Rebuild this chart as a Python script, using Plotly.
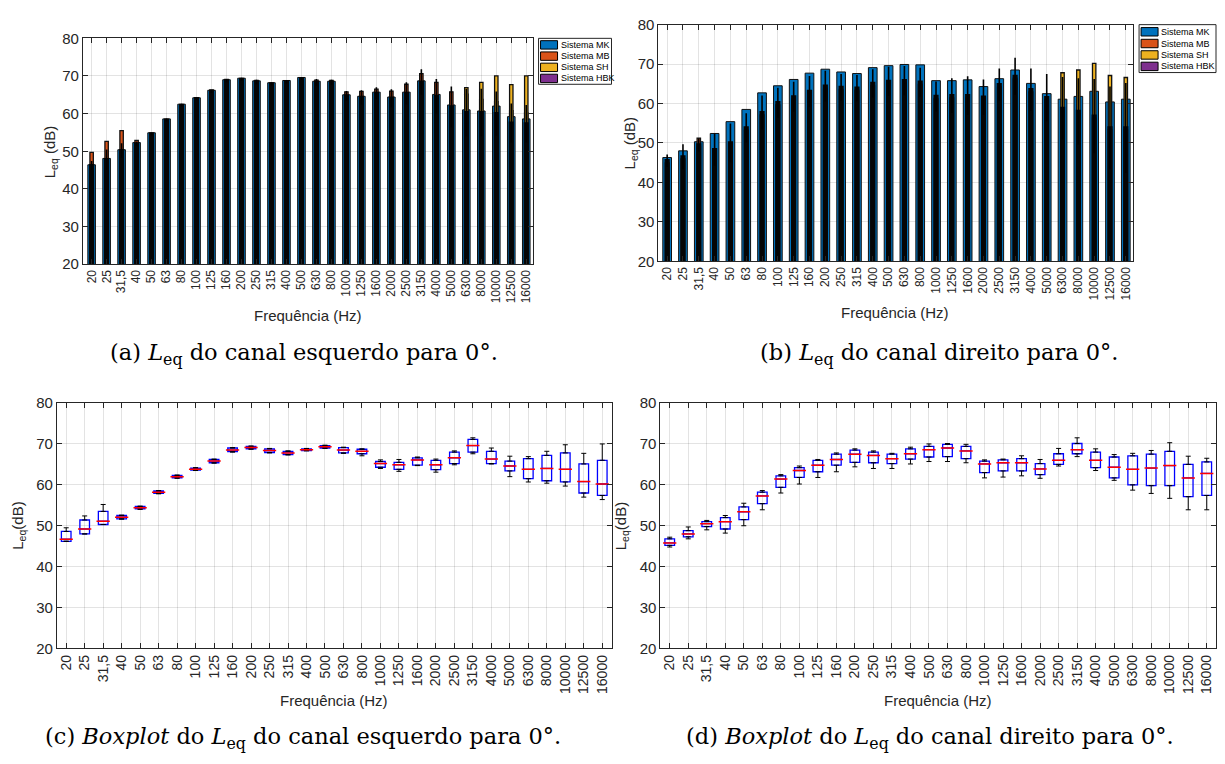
import plotly.graph_objects as go

W, H = 1225, 764

freq_labels = ["20", "25", "31,5", "40", "50", "63", "80", "100", "125", "160",
               "200", "250", "315", "400", "500", "630", "800", "1000", "1250", "1600",
               "2000", "2500", "3150", "4000", "5000", "6300", "8000", "10000", "12500", "16000"]
systems = ["Sistema MK", "Sistema MB", "Sistema SH", "Sistema HBK"]
sys_colors = ["#0072BD", "#D95319", "#EDB120", "#7E2F8E"]

# ---- (a) canal esquerdo: Leq por sistema (dB)
mk_esq = [46.4, 48.1, 50.4, 52.3, 54.9, 58.6, 62.5, 64.2, 66.2, 69.0, 69.4, 68.7, 68.2, 68.8, 69.6,
          68.6, 68.6, 65.0, 64.6, 65.7, 64.4, 65.7, 68.7, 65.1, 62.3, 61.0, 60.7, 62.0, 59.2, 58.6]
mb_esq = [49.7, 52.6, 55.5, 52.9, 54.7, 58.4, 62.3, 64.0, 66.0, 68.8, 69.2, 68.8, 68.0, 68.6, 69.4,
          68.9, 68.8, 65.8, 65.9, 66.5, 66.0, 67.8, 70.6, 68.3, 65.8, 65.2, 63.8, 63.2, 60.8, 60.2]
sh_esq = [45.5, 47.0, 49.5, 51.8, 54.3, 58.0, 61.9, 63.7, 66.3, 69.1, 68.9, 68.2, 67.7, 68.3, 69.1,
          68.1, 67.9, 64.4, 63.9, 64.9, 63.7, 64.9, 67.9, 64.4, 61.9, 66.9, 68.3, 70.0, 67.7, 70.0]
hbk_esq = [46.2, 47.8, 50.2, 52.0, 54.6, 58.3, 62.2, 64.0, 65.9, 68.7, 69.1, 68.4, 67.9, 68.5, 69.3,
           68.3, 68.3, 64.7, 64.3, 65.4, 64.1, 65.4, 68.4, 64.6, 61.8, 60.3, 60.3, 60.0, 57.5, 57.3]
err_esq = [1.2, 2.7, 1.9, 0.6, 0.4, 0.4, 0.4, 0.3, 0.4, 0.4, 0.4, 0.6, 0.4, 0.4, 0.4,
           0.9, 0.7, 1.3, 1.9, 1.6, 2.4, 2.9, 3.4, 4.6, 5.4, 6.3, 6.3, 5.9, 5.2, 5.0]

# ---- (b) canal direito: Leq por sistema (dB)
mk_dir = [46.3, 48.0, 50.3, 52.4, 55.4, 58.5, 62.7, 64.5, 66.1, 67.7, 68.7, 68.0, 67.6, 69.1, 69.6,
          69.9, 69.8, 65.8, 65.8, 66.0, 64.3, 66.3, 68.5, 65.1, 62.5, 61.1, 61.8, 63.1, 60.4, 61.1]
mb_dir = [45.0, 46.0, 51.2, 48.0, 49.5, 53.3, 57.2, 59.7, 61.2, 62.6, 63.9, 63.6, 63.4, 64.6, 65.1,
          65.3, 64.9, 61.3, 61.5, 61.5, 61.1, 64.3, 66.4, 63.0, 61.0, 58.3, 57.5, 56.3, 53.3, 53.3]
sh_dir = [44.8, 45.8, 49.0, 47.8, 49.3, 53.1, 57.0, 59.5, 61.0, 62.4, 63.7, 63.4, 63.2, 64.4, 64.9,
          65.1, 64.7, 61.1, 61.3, 61.3, 60.9, 64.1, 66.2, 62.8, 60.8, 67.8, 68.5, 70.2, 67.1, 66.6]
hbk_dir = [45.5, 46.5, 49.5, 48.3, 50.0, 53.8, 57.7, 60.2, 61.7, 63.1, 64.4, 64.1, 63.9, 65.1, 65.6,
           65.8, 65.4, 61.8, 62.0, 62.0, 61.6, 64.8, 66.9, 63.5, 61.5, 58.8, 58.0, 56.8, 53.8, 53.8]
err_dir = [1.6, 3.2, 1.7, 4.1, 4.9, 3.7, 4.3, 3.8, 3.8, 3.9, 3.9, 3.4, 3.3, 3.6, 3.7,
           3.7, 3.7, 3.8, 4.4, 4.9, 4.5, 4.1, 4.7, 5.4, 6.0, 7.9, 8.4, 9.4, 10.5, 11.4]

# ---- (c) boxplot canal esquerdo
q1_esq = [46.2, 48.0, 50.3, 51.7, 54.1, 57.9, 61.7, 63.6, 65.4, 68.1, 68.8, 67.9, 67.4, 68.4, 69.0,
          67.8, 67.6, 64.3, 63.8, 64.8, 63.7, 65.2, 68.0, 65.2, 63.4, 61.5, 61.0, 60.7, 58.0, 57.4]
med_esq = [46.7, 49.2, 51.1, 52.1, 54.4, 58.2, 62.0, 63.8, 65.8, 68.5, 69.1, 68.4, 67.8, 68.6, 69.3,
           68.5, 68.2, 65.2, 64.9, 66.1, 64.9, 66.6, 69.6, 66.3, 64.6, 63.8, 64.0, 63.8, 60.8, 60.2]
q3_esq = [48.6, 51.4, 53.5, 52.5, 54.7, 58.5, 62.3, 64.1, 66.2, 69.0, 69.4, 68.8, 68.2, 68.8, 69.6,
          69.1, 68.7, 65.7, 65.5, 66.6, 66.0, 68.0, 71.1, 68.2, 65.8, 66.4, 67.2, 67.8, 65.1, 66.0]
lo_esq = [46.2, 48.0, 50.3, 51.6, 54.0, 57.8, 61.6, 63.5, 65.3, 68.0, 68.7, 67.8, 67.3, 68.3, 68.9,
          67.7, 67.1, 64.0, 63.3, 64.7, 63.1, 64.9, 67.6, 65.1, 62.0, 60.7, 60.4, 59.7, 57.0, 56.4]
hi_esq = [49.5, 52.4, 55.2, 52.6, 54.8, 58.6, 62.4, 64.2, 66.3, 69.1, 69.5, 68.9, 68.3, 68.9, 69.7,
          69.2, 68.8, 66.1, 66.2, 66.8, 66.3, 68.3, 71.5, 69.0, 67.0, 66.9, 68.2, 69.8, 67.7, 70.0]

# ---- (d) boxplot canal direito
q1_dir = [45.2, 47.3, 49.8, 49.2, 51.5, 55.4, 59.4, 61.8, 63.2, 64.8, 65.5, 65.4, 65.2, 66.3, 66.8,
          66.9, 66.4, 63.0, 63.4, 63.4, 62.5, 65.0, 67.6, 64.2, 61.7, 60.0, 59.8, 59.8, 57.1, 57.4]
med_dir = [45.8, 48.0, 50.5, 51.0, 53.4, 57.3, 61.4, 63.5, 64.8, 66.2, 67.5, 67.2, 66.4, 67.6, 68.6,
           69.0, 68.3, 65.1, 65.4, 65.4, 63.9, 66.0, 68.6, 66.0, 64.3, 63.8, 64.1, 64.7, 61.7, 62.8]
q3_dir = [46.8, 48.8, 51.0, 52.0, 54.6, 58.2, 62.2, 64.2, 66.0, 67.5, 68.5, 68.0, 67.5, 68.8, 69.4,
          69.9, 69.4, 65.8, 66.1, 66.4, 65.2, 67.6, 70.1, 68.0, 66.8, 67.1, 67.5, 68.2, 65.0, 65.6]
lo_dir = [44.8, 46.8, 49.0, 48.2, 50.0, 53.9, 58.0, 60.2, 61.8, 63.2, 64.4, 64.0, 64.0, 65.1, 65.7,
          65.7, 65.4, 61.7, 61.9, 62.2, 61.6, 64.6, 66.9, 63.5, 61.1, 58.7, 57.9, 56.7, 53.9, 53.9]
hi_dir = [47.2, 49.7, 51.3, 52.5, 55.5, 58.6, 62.5, 64.6, 66.2, 67.8, 68.8, 68.3, 67.7, 69.2, 70.0,
          70.1, 69.9, 66.1, 66.3, 67.1, 66.2, 68.9, 71.5, 68.8, 67.4, 67.7, 68.4, 70.3, 67.0, 66.5]

x_idx = list(range(len(freq_labels)))


def fx(p):
    return p / W


def fy(p):
    return 1 - p / H


AX = "#262626"
GRID = "rgba(38,38,38,0.13)"
SANS = "Liberation Sans, Arial, sans-serif"
LBLFONT = dict(family=SANS, size=15, color=AX)
CAPFONT = dict(family="DejaVu Serif, serif", size=22.5, color="black")

fig = go.Figure()


def add_bars(n, mk, mb, sh, hbk, err, sp, mkw):
    xa, ya = ("x", "y") if n == 1 else ("x%d" % n, "y%d" % n)
    fig.add_trace(go.Bar(x=x_idx, y=mk, width=mkw / sp,
                         marker=dict(color=sys_colors[0], line=dict(color="#111111", width=1)),
                         name=systems[0], xaxis=xa, yaxis=ya, showlegend=False))
    fig.add_trace(go.Bar(x=x_idx, y=mb, width=3.4 / sp,
                         marker=dict(color=sys_colors[1], line=dict(color="#111111", width=1.3)),
                         name=systems[1], xaxis=xa, yaxis=ya, showlegend=False))
    fig.add_trace(go.Bar(x=x_idx, y=sh, width=3.4 / sp,
                         marker=dict(color=sys_colors[2], line=dict(color="#111111", width=1.3)),
                         name=systems[2], xaxis=xa, yaxis=ya, showlegend=False))
    fig.add_trace(go.Bar(x=x_idx, y=hbk, width=2.0 / sp,
                         marker=dict(color=sys_colors[3], line=dict(color="#050505", width=3.2)),
                         error_y=dict(type="data", array=err, color="black", thickness=1.6, width=0),
                         name=systems[3], xaxis=xa, yaxis=ya, showlegend=False))


def add_box(n, q1, med, q3, lo, hi):
    xa, ya = "x%d" % n, "y%d" % n
    fig.add_trace(go.Box(x=x_idx, q1=q1, median=med, q3=q3, lowerfence=q1, upperfence=q3,
                         width=0.52, whiskerwidth=0, fillcolor="rgba(0,0,0,0)",
                         line=dict(color="#0000FF", width=1.3), boxpoints=False,
                         xaxis=xa, yaxis=ya, showlegend=False))
    up = [h - q for h, q in zip(hi, q3)]
    dn = [q - l for q, l in zip(q1, lo)]
    fig.add_trace(go.Scatter(x=x_idx, y=q3, mode="markers", marker=dict(size=1, opacity=0),
                             error_y=dict(type="data", symmetric=False, array=up,
                                          arrayminus=[0] * len(up), color="black",
                                          thickness=1, width=2.5),
                             xaxis=xa, yaxis=ya, showlegend=False, hoverinfo="skip"))
    fig.add_trace(go.Scatter(x=x_idx, y=q1, mode="markers", marker=dict(size=1, opacity=0),
                             error_y=dict(type="data", symmetric=False, array=[0] * len(dn),
                                          arrayminus=dn, color="black",
                                          thickness=1, width=2.5),
                             xaxis=xa, yaxis=ya, showlegend=False, hoverinfo="skip"))
    fig.add_trace(go.Scatter(x=x_idx, y=med, mode="markers",
                             marker=dict(symbol="line-ew", size=9.5,
                                         line=dict(color="#FF0000", width=1.5)),
                             xaxis=xa, yaxis=ya, showlegend=False, hoverinfo="skip"))


add_bars(1, mk_esq, mb_esq, sh_esq, hbk_esq, err_esq, 15.0, 7.6)
add_bars(2, mk_dir, mb_dir, sh_dir, hbk_dir, err_dir, 15.83, 8.7)
add_box(3, q1_esq, med_esq, q3_esq, lo_esq, hi_esq)
add_box(4, q1_dir, med_dir, q3_dir, lo_dir, hi_dir)

# axes geometry (pixels)
panels = {
    1: dict(x0=83, x1=533, y0=30, y1=261, xr=[-0.58, 29.42], xf=12),
    2: dict(x0=659, x1=1134, y0=16, y1=258, xr=[-0.55, 29.46], xf=12),
    3: dict(x0=57, x1=612, y0=403, y1=654, xr=[-0.5, 29.5], xf=14),
    4: dict(x0=661, x1=1217, y0=403, y1=654, xr=[-0.5, 29.5], xf=14),
}

layout = dict(width=W, height=H, margin=dict(l=0, r=0, t=0, b=0),
              paper_bgcolor="white", plot_bgcolor="white", barmode="overlay",
              showlegend=False)
for n, p in panels.items():
    sx = "" if n == 1 else str(n)
    layout["xaxis" + sx] = dict(domain=[fx(p["x0"]), fx(p["x1"])], range=p["xr"],
                                anchor="y" + sx, tickmode="array", tickvals=x_idx,
                                ticktext=freq_labels, tickangle=-90,
                                tickfont=dict(family=SANS, size=p["xf"], color=AX),
                                showgrid=True, gridcolor=GRID, gridwidth=1,
                                showline=True, linecolor=AX, linewidth=1, mirror="ticks",
                                ticks="inside", ticklen=5, tickcolor=AX, zeroline=False)
    layout["yaxis" + sx] = dict(domain=[fy(p["y1"]), fy(p["y0"])], range=[20, 80], dtick=10,
                                anchor="x" + sx, tickfont=dict(family=SANS, size=15, color=AX),
                                showgrid=True, gridcolor=GRID, gridwidth=1,
                                showline=True, linecolor=AX, linewidth=1, mirror="ticks",
                                ticks="inside", ticklen=5, tickcolor=AX, zeroline=False)
fig.update_layout(**layout)

ann = []
shapes = []
# axis titles
ylab = [(1, 50, "L<sub>eq</sub> (dB)"), (2, 631, "L<sub>eq</sub> (dB)"),
        (3, 19, "L<sub>eq</sub>(dB)"), (4, 622, "L<sub>eq</sub>(dB)")]
for n, xp, t in ylab:
    p = panels[n]
    ann.append(dict(x=fx(xp), y=fy((p["y0"] + p["y1"]) / 2), xref="paper", yref="paper",
                    text=t, textangle=-90, showarrow=False, font=LBLFONT,
                    xanchor="center", yanchor="middle"))
for xp, yp in [(308, 313), (896, 310), (334, 707), (939, 707)]:
    ann.append(dict(x=fx(xp), y=fy(yp), xref="paper", yref="paper", text="Frequência (Hz)",
                    showarrow=False, font=LBLFONT, xanchor="center", yanchor="middle"))

captions = [
    (304, 353, "(a) <i>L</i><sub>eq</sub> do canal esquerdo para 0°."),
    (940, 353, "(b) <i>L</i><sub>eq</sub> do canal direito para 0°."),
    (303, 746, "(c) <i>Boxplot</i> do <i>L</i><sub>eq</sub> do canal esquerdo para 0°."),
    (931, 746, "(d) <i>Boxplot</i> do <i>L</i><sub>eq</sub> do canal direito para 0°."),
]
for xp, yp, t in captions:
    ann.append(dict(x=fx(xp), y=fy(yp), xref="paper", yref="paper", text=t,
                    showarrow=False, font=CAPFONT, xanchor="center", yanchor="middle"))

# custom legends (MATLAB style)
legends = [dict(box=(539, 30, 612, 77), sw=(541, 558), rows=[36.7, 48.2, 59.7, 71.0], tx=559),
           dict(box=(1140, 16, 1217, 65), sw=(1142, 1159), rows=[23.3, 35.3, 47.0, 58.7], tx=1160)]
for lg in legends:
    bx0, by0, bx1, by1 = lg["box"]
    shapes.append(dict(type="rect", xref="paper", yref="paper", x0=fx(bx0), x1=fx(bx1),
                       y0=fy(by1), y1=fy(by0), line=dict(color=AX, width=1),
                       fillcolor="white", layer="above"))
    for name, col, yc in zip(systems, sys_colors, lg["rows"]):
        shapes.append(dict(type="rect", xref="paper", yref="paper", x0=fx(lg["sw"][0]),
                           x1=fx(lg["sw"][1]), y0=fy(yc + 4.3), y1=fy(yc - 4.3),
                           line=dict(color="black", width=1), fillcolor=col, layer="above"))
        ann.append(dict(x=fx(lg["tx"]), y=fy(yc), xref="paper", yref="paper", text=name,
                        showarrow=False, xanchor="left", yanchor="middle",
                        font=dict(family=SANS, size=9, color="black")))

fig.update_layout(annotations=ann, shapes=shapes)
fig.write_html("out.html")
